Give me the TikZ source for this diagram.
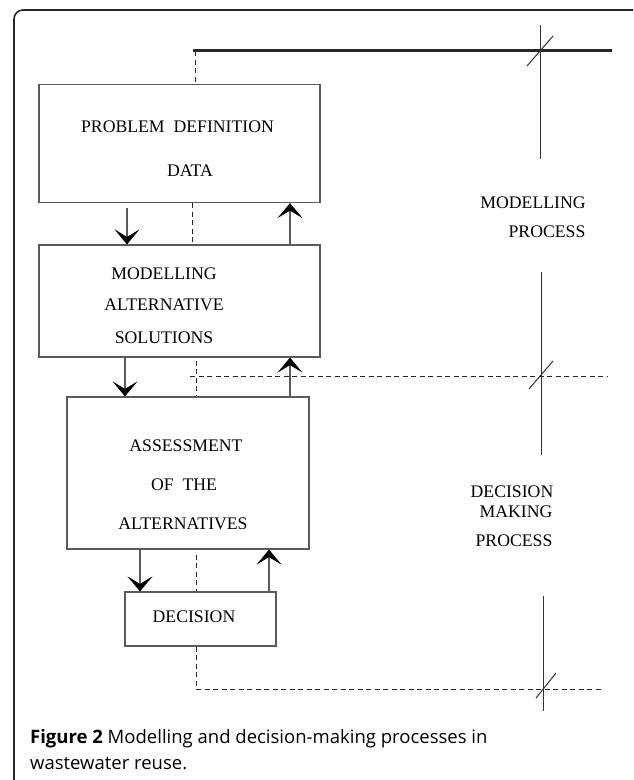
\documentclass[tikz,border=0pt]{standalone}
\usepackage{fontspec}
\setmainfont{Liberation Serif}
\newfontfamily\capfont{Open Sans}
\usetikzlibrary{arrows.meta}
\definecolor{ln}{HTML}{5A5A5A}
\begin{document}
\begin{tikzpicture}[x=1pt,y=-1pt,
  boxst/.style={draw=ln,line width=1.2pt,rectangle,inner sep=0pt},
  lab/.style={font=\fontsize{17.7}{20}\selectfont,inner sep=0pt,anchor=center},
  arr/.style={draw=ln,line width=1.1pt,-{Stealth[length=15pt,width=25pt,inset=7.5pt,color=black]}},
  dsh/.style={draw=black!85,line width=0.9pt,dash pattern=on 5pt off 3.5pt},
  tick/.style={draw=black!80,line width=1pt},
  capst/.style={anchor=base west,inner sep=0pt,font=\capfont\fontsize{18.5}{21}\selectfont}]
\useasboundingbox (0,0) rectangle (633,780);
\begin{scope}
\clip (0,0) rectangle (633,780);
\draw[line width=1.6pt,rounded corners=9pt,black!85] (14,800) -- (14,10) -- (660,10);
\end{scope}
% boxes
\node[boxst,minimum width=281pt,minimum height=118pt] (b1) at (179.5,143.5) {};
\node[boxst,minimum width=281pt,minimum height=112pt] (b2) at (179.5,301) {};
\node[boxst,minimum width=242pt,minimum height=152pt] (b3) at (188,473) {};
\node[boxst,minimum width=151pt,minimum height=54pt] (b4) at (200.5,619) {};
% box texts
\node[lab] (t1a) at (177.5,127) {PROBLEM\ \ DEFINITION};
\node[lab] (t1b) at (190,171) {DATA};
\node[lab] (t2a) at (164,274) {MODELLING};
\node[lab] (t2b) at (164,305) {ALTERNATIVE};
\node[lab] (t2c) at (164,338) {SOLUTIONS};
\node[lab] (t3a) at (186,446) {ASSESSMENT};
\node[lab] (t3b) at (184,485) {OF\ \ THE};
\node[lab] (t3c) at (183,524) {ALTERNATIVES};
\node[lab] (t4) at (194,617) {DECISION};
% side labels
\node[lab] (m1) at (533,203) {MODELLING};
\node[lab] (m2) at (547,232) {PROCESS};
\node[lab] (d1) at (512,492) {DECISION};
\node[lab] (d2) at (516,512) {MAKING};
\node[lab] (d3) at (514,541) {PROCESS};
% top line and ticks
\coordinate (tl0) at (193,50.7);
\coordinate (tl1) at (612,50.7);
\draw[line width=2.6pt,black!85] (tl0) -- (tl1);
\coordinate (v1a) at (540,25);
\coordinate (v1b) at (540,159);
\draw[tick] (v1a) -- (v1b);
\coordinate (s1a) at (527,66);
\coordinate (s1b) at (553,36);
\draw[tick] (s1a) -- (s1b);
\coordinate (v2a) at (541,272);
\coordinate (v2b) at (541,455);
\draw[tick] (v2a) -- (v2b);
\coordinate (s2a) at (529,389);
\coordinate (s2b) at (553,361);
\draw[tick] (s2a) -- (s2b);
\coordinate (v3a) at (543,596);
\coordinate (v3b) at (543,711);
\draw[tick] (v3a) -- (v3b);
\coordinate (s3a) at (536,698);
\coordinate (s3b) at (556,673);
\draw[tick] (s3a) -- (s3b);
% dashed
\draw[dsh] (195,51) -- (b1.north -| 195,0);
\draw[dsh] (b1.south -| 192,0) -- (b2.north -| 192,0);
\draw[dsh] (b2.south -| 196,0) ++(0,3) -- (b3.north -| 196,0);
\coordinate (h1a) at (190,376);
\coordinate (h1b) at (607,376);
\draw[dsh] (h1a) -- (h1b);
\draw[dsh] (b3.south -| 196,0) ++(0,5) -- (b4.north -| 196,0);
\coordinate (h2b) at (601,689);
\draw[dsh] (b4.south -| 196,0) |- (h2b);
% arrows
\draw[arr] (b1.south -| 127,0) ++(0,5) -- (b2.north -| 127,0);
\draw[arr] (b2.north -| 290,0) -- (b1.south -| 290,0);
\draw[arr] (b2.south -| 125,0) -- (b3.north -| 125,0);
\draw[arr] (b3.north -| 290,0) -- (b2.south -| 290,0);
\draw[arr] (b3.south -| 140,0) -- (b4.north -| 140,0);
\draw[arr] (b4.north -| 269,0) -- (b3.south -| 269,0);
% caption
\node[capst] (cap1) at (30,743) {\textbf{Figure 2} Modelling and decision-making processes in};
\node[capst] (cap2) at (30,769) {wastewater reuse.};
\end{tikzpicture}
\end{document}
